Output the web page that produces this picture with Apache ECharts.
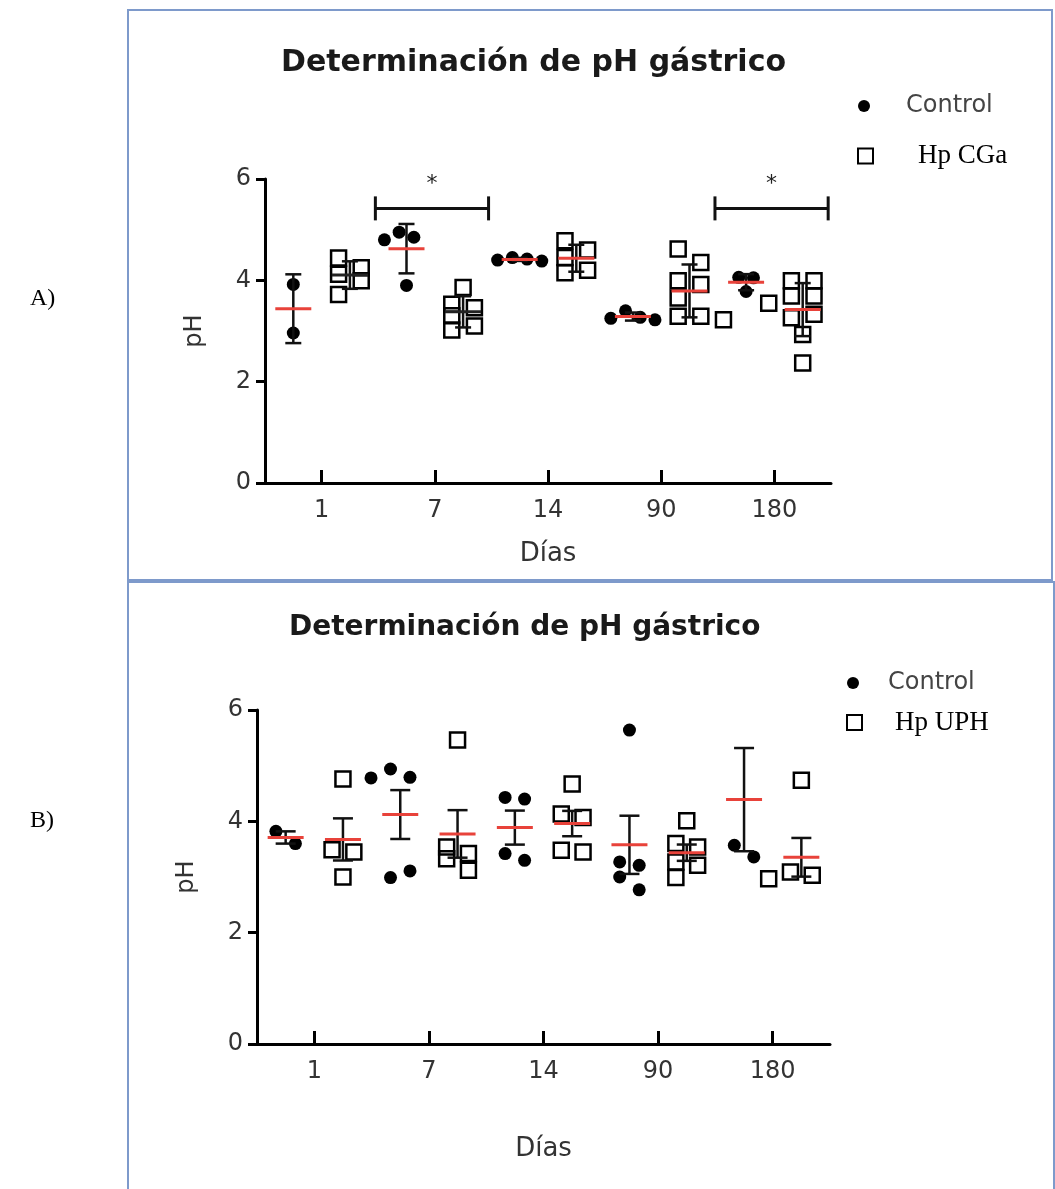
<!DOCTYPE html>
<html>
<head>
<meta charset="utf-8">
<script src="https://cdn.jsdelivr.net/npm/echarts@6/dist/echarts.min.js"></script>
<style>
html,body{margin:0;padding:0;background:#fff;}
#c{width:1055px;height:1189px;}
</style>
</head>
<body>
<div id="c"></div>
<script>
// ---------- data ----------
const days = ['1', '7', '14', '90', '180'];
const yTicks = [0, 2, 4, 6];

// Panel A (error bars = SD)
const controlA = [
  [3.92, 2.96],
  [4.95, 4.80, 4.85, 3.90],
  [4.45, 4.42, 4.40, 4.38],
  [3.40, 3.27, 3.22, 3.25],
  [4.06, 4.05, 3.78]
];
const hpCGa = [
  [4.44, 4.25, 4.12, 3.99, 3.72],
  [3.86, 3.53, 3.46, 3.30, 3.10, 3.02],
  [4.78, 4.60, 4.45, 4.20, 4.15],
  [4.62, 4.35, 3.99, 3.92, 3.65, 3.29, 3.29, 3.22],
  [3.99, 3.99, 3.69, 3.69, 3.55, 3.33, 3.26, 2.93, 2.37]
];
const sigA = [{ day: '7', y: 5.42, label: '*' }, { day: '180', y: 5.42, label: '*' }];

// Panel B (error bars = SEM)
const controlB = [
  [3.82, 3.60],
  [4.94, 4.79, 4.78, 3.11, 2.99],
  [4.43, 4.40, 3.42, 3.30],
  [5.64, 3.27, 3.21, 3.00, 2.77],
  [6.24, 3.57, 3.36]
];
const hpUPH = [
  [4.76, 3.49, 3.45, 3.00],
  [5.46, 3.54, 3.42, 3.33, 3.12],
  [4.67, 4.13, 4.07, 3.48, 3.45],
  [4.01, 3.60, 3.54, 3.27, 3.21, 2.99],
  [4.74, 3.09, 3.03, 2.97, 2.94]
];

// ---------- helpers ----------
function stats(arr, kind) {
  const n = arr.length;
  const mean = arr.reduce((a, b) => a + b, 0) / n;
  const sd = Math.sqrt(arr.reduce((a, b) => a + (b - mean) * (b - mean), 0) / (n - 1));
  const e = kind === 'SD' ? sd : sd / Math.sqrt(n);
  return [mean, mean - e, mean + e];
}
// deterministic scatter-dot layout: isolated values stay centred, crowded ones
// alternate between columns either side of the centre
function swarm(vals, isoTol, colTol, step) {
  const idx = vals.map((v, i) => i).sort((a, b) => vals[b] - vals[a]);
  const res = new Array(vals.length).fill(0);
  const placed = [];
  let lastLeft = false;
  idx.forEach(i => {
    const v = vals[i];
    const iso = vals.every((w, j) => j === i || Math.abs(w - v) >= isoTol);
    if (iso) { placed.push({ x: 0, y: v }); return; }
    const order = lastLeft ? [0.5, -0.5, 1.5, -1.5, 2.5, -2.5] : [-0.5, 0.5, -1.5, 1.5, -2.5, 2.5];
    for (const k of order) {
      const x = k * step;
      if (placed.every(q => Math.abs(q.x - x) >= step * 0.999 || Math.abs(q.y - v) >= colTol)) {
        res[i] = x; placed.push({ x, y: v }); lastLeft = k < 0; return;
      }
    }
  });
  return res;
}
function points(groups, side, isoTol, colTol, step) {
  const out = [];
  groups.forEach((vals, g) => {
    const offs = swarm(vals, isoTol, colTol, step);
    vals.forEach((v, i) => out.push([2 * g + side + offs[i], v]));
  });
  return out;
}
function summary(groups, side, kind, blackMeans) {
  return groups.map((vals, g) => {
    const s = stats(vals, kind);
    return [2 * g + side, s[0], s[1], s[2], blackMeans.indexOf(g) >= 0 ? 1 : 0];
  });
}

const FONT = 'DejaVu Sans';
const RED = '#e8423a';

function errRender(capHalf) {
  return function (params, api) {
    const x = api.value(0);
    const m = api.coord([x, api.value(1)]);
    const lo = api.coord([x, api.value(2)]);
    const hi = api.coord([x, api.value(3)]);
    const black = api.value(4) === 1;
    const ls = { stroke: '#111', lineWidth: 2.5 };
    return {
      type: 'group',
      children: [
        { type: 'line', shape: { x1: m[0], y1: hi[1], x2: m[0], y2: lo[1] }, style: ls },
        { type: 'line', shape: { x1: m[0] - capHalf, y1: hi[1], x2: m[0] + capHalf, y2: hi[1] }, style: ls },
        { type: 'line', shape: { x1: m[0] - capHalf, y1: lo[1], x2: m[0] + capHalf, y2: lo[1] }, style: ls },
        { type: 'line', shape: { x1: m[0] - 18, y1: m[1], x2: m[0] + 18, y2: m[1] },
          style: { stroke: black ? '#222' : RED, lineWidth: 3 } }
      ]
    };
  };
}
function sigRender(params, api) {
  const x0 = api.coord([api.value(0), api.value(2)]);
  const x1 = api.coord([api.value(1), api.value(2)]);
  const ls = { stroke: '#111', lineWidth: 3 };
  return {
    type: 'group',
    children: [
      { type: 'line', shape: { x1: x0[0], y1: x0[1], x2: x1[0], y2: x1[1] }, style: ls },
      { type: 'line', shape: { x1: x0[0], y1: x0[1] - 12, x2: x0[0], y2: x0[1] + 12 }, style: ls },
      { type: 'line', shape: { x1: x1[0], y1: x1[1] - 12, x2: x1[0], y2: x1[1] + 12 }, style: ls },
      { type: 'text', style: { text: '*', x: (x0[0] + x1[0]) / 2, y: x0[1] - 24, fontSize: 22,
          fontFamily: FONT, fill: '#222', align: 'center', verticalAlign: 'middle' } }
    ]
  };
}
const sigDataA = sigA.map(s => {
  const g = days.indexOf(s.day);
  return [2 * g - 0.55, 2 * g + 1.45, s.y];
});

function yAxisCfg(grid) {
  return {
    gridIndex: grid, type: 'value', min: yTicks[0], max: yTicks[yTicks.length - 1], interval: 2,
    axisLine: { show: true, onZero: false, lineStyle: { color: '#000', width: 3 } },
    axisTick: { show: true, length: 9, lineStyle: { color: '#000', width: 3 } },
    axisLabel: { fontSize: 24, fontFamily: FONT, color: '#333', margin: 14 },
    splitLine: { show: false },
    name: 'pH', nameLocation: 'middle', nameGap: 58,
    nameTextStyle: { fontSize: 24, fontFamily: FONT, color: '#333' }
  };
}
function catAxisCfg(grid, nameGap) {
  return {
    gridIndex: grid, type: 'category', data: days, boundaryGap: true, position: 'bottom',
    axisLine: { show: true, onZero: false, lineStyle: { color: '#000', width: 3 } },
    axisTick: { show: true, alignWithLabel: true, inside: true, length: 13, lineStyle: { color: '#000', width: 3 } },
    axisLabel: { fontSize: 24, fontFamily: FONT, color: '#333', margin: 16 },
    name: 'Días', nameLocation: 'middle', nameGap: nameGap,
    nameTextStyle: { fontSize: 26, fontFamily: FONT, color: '#333' }
  };
}
const hiddenX = g => ({ gridIndex: g, type: 'value', min: -0.5, max: 9.5, show: false });

const dotStyle = { color: '#000', opacity: 1 };
const sqStyle = { color: 'rgba(0,0,0,0)', borderColor: '#000', borderWidth: 2.5, opacity: 1 };

const option = {
  backgroundColor: '#fff',
  animation: false,
  title: [
    { text: 'Determinación de pH gástrico', left: 276, top: 43,
      textStyle: { fontFamily: FONT, fontWeight: 'bold', fontSize: 30, color: '#1a1a1a' } },
    { text: 'Determinación de pH gástrico', left: 284, top: 609,
      textStyle: { fontFamily: FONT, fontWeight: 'bold', fontSize: 28, color: '#1a1a1a' } }
  ],
  legend: [
    { data: ['Control'], left: 853, top: 89, itemWidth: 12, itemHeight: 12, selectedMode: false,
      textStyle: { fontSize: 24, lineHeight: 24, fontFamily: FONT, color: '#444', padding: [0, 0, 0, 31] } },
    { data: ['Hp CGa'], left: 852, top: 137, itemWidth: 15, itemHeight: 15, selectedMode: false,
      textStyle: { fontSize: 27, lineHeight: 28, fontFamily: 'Liberation Serif', color: '#000', padding: [0, 0, 0, 40] } },
    { data: ['Control'], left: 842, top: 666, itemWidth: 12, itemHeight: 12, selectedMode: false,
      textStyle: { fontSize: 24, lineHeight: 24, fontFamily: FONT, color: '#444', padding: [0, 0, 0, 24] } },
    { data: ['Hp UPH'], left: 841, top: 688, itemWidth: 15, itemHeight: 15, selectedMode: false,
      textStyle: { fontSize: 27, lineHeight: 27, fontFamily: 'Liberation Serif', color: '#000', padding: [32, 0, 0, 28] } }
  ],
  grid: [
    { left: 265, top: 179, width: 566, height: 304 },
    { left: 257, top: 710, width: 573, height: 334 }
  ],
  xAxis: [hiddenX(0), catAxisCfg(0, 58), hiddenX(1), catAxisCfg(1, 92)],
  yAxis: [yAxisCfg(0), yAxisCfg(1)],
  series: [
    { name: 'Control', type: 'scatter', xAxisIndex: 0, yAxisIndex: 0, symbol: 'circle', symbolSize: 13,
      itemStyle: dotStyle, data: points(controlA, 0, 0.25, 0.2, 0.26), z: 2 },
    { name: 'Hp CGa', type: 'scatter', xAxisIndex: 0, yAxisIndex: 0, symbol: 'rect', symbolSize: 15,
      itemStyle: sqStyle, data: points(hpCGa, 1, 0.3, 0.2, 0.4), z: 2 },
    { type: 'custom', xAxisIndex: 0, yAxisIndex: 0, renderItem: errRender(8), z: 3,
      data: summary(controlA, 0, 'SD', []).concat(summary(hpCGa, 1, 'SD', [0, 1])) },
    { type: 'custom', xAxisIndex: 0, yAxisIndex: 0, renderItem: sigRender, z: 3, clip: false, data: sigDataA },

    { name: 'Control', type: 'scatter', xAxisIndex: 2, yAxisIndex: 1, symbol: 'circle', symbolSize: 13,
      itemStyle: dotStyle, data: points(controlB, 0, 0.23, 0.18, 0.34), z: 2, clip: true },
    { name: 'Hp UPH', type: 'scatter', xAxisIndex: 2, yAxisIndex: 1, symbol: 'rect', symbolSize: 15,
      itemStyle: sqStyle, data: points(hpUPH, 1, 0.28, 0.18, 0.38), z: 2 },
    { type: 'custom', xAxisIndex: 2, yAxisIndex: 1, renderItem: errRender(10), z: 3,
      data: summary(controlB, 0, 'SEM', []).concat(summary(hpUPH, 1, 'SEM', [])) }
  ],
  graphic: [
    { type: 'rect', shape: { x: 128, y: 10, width: 924, height: 570 }, style: { fill: 'none', stroke: '#7e9acb', lineWidth: 2 }, silent: true },
    { type: 'rect', shape: { x: 128, y: 582, width: 926, height: 620 }, style: { fill: 'none', stroke: '#7e9acb', lineWidth: 2 }, silent: true },
    { type: 'text', left: 30, top: 287, style: { text: 'A)', font: '24px "Liberation Serif"', fill: '#000' } },
    { type: 'text', left: 30, top: 809, style: { text: 'B)', font: '24px "Liberation Serif"', fill: '#000' } }
  ]
};

const chart = echarts.init(document.getElementById('c'), null, { renderer: 'canvas' });
chart.setOption(option);
</script>
</body>
</html>
